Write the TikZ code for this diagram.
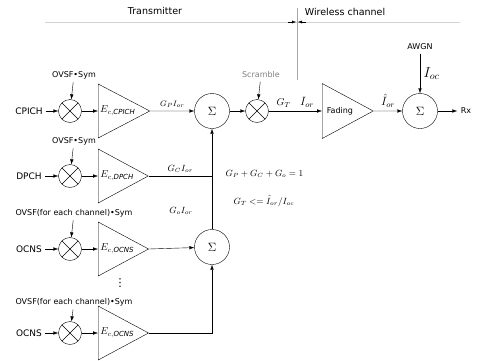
\documentclass[tikz,border=0pt]{standalone}
\usepackage{fontspec}
\setmainfont{DejaVu Sans}
\usetikzlibrary{shapes.geometric, arrows.meta}

\begin{document}
\begin{tikzpicture}[x=1pt, y=-1pt,
  mult/.style={draw, circle, minimum size=23pt, inner sep=0pt,
    path picture={\draw (path picture bounding box.north west) -- (path picture bounding box.south east)
      (path picture bounding box.north east) -- (path picture bounding box.south west);}},
  summ/.style={draw, circle, minimum size=35pt, inner sep=0pt, font=\large},
  amp/.style={draw, isosceles triangle, isosceles triangle stretches, minimum width=54pt,
    minimum height=50pt, inner sep=1pt, anchor=west},
  sig/.style={-{Latex[length=5pt,width=3.5pt]}},
  txt/.style={font=\fontsize{8}{9}\selectfont},
  chan/.style={font=\fontsize{9}{10}\selectfont}]
  \useasboundingbox (0,0) rectangle (477,360);

  % Headers
  \node[font=\fontsize{9.5}{11}\selectfont] (tx) at (155,11) {Transmitter};
  \node[font=\fontsize{9.5}{11}\selectfont] (wc) at (345,12) {Wireless channel};
  \draw[gray!35] (45,22) -- (460,22);
  \coordinate (sep) at (297,22);
  \draw[gray!70] (297,8) -- (297,80);
  \draw[-{Latex[length=4pt,width=3pt]}] ([xshift=-9pt]sep) -- ([xshift=-1pt]sep);
  \draw[-{Latex[length=4pt,width=3pt]}] ([xshift=9pt]sep) -- ([xshift=1pt]sep);

  % Input channels
  \foreach \n/\y/\d/\inp/\sym in {cp/111/36/CPICH/OVSF\textbullet Sym,
      dp/176/35/DPCH/OVSF\textbullet Sym,
      oa/249/36/OCNS/OVSF(for each channel)\textbullet Sym,
      ob/333/31/OCNS/OVSF(for each channel)\textbullet Sym} {
    \node[chan] (in\n) at (29,\y) {\inp};
    \node[mult] (m\n) at (70,\y) {};
    \node[txt] (code\n) at (74,\y-\d) {\sym};
    \node[amp] (a\n) at (98,\y) {$E_{c,\mathit{\inp}}$};
    \draw[sig] (in\n) -- (m\n);
    \draw[sig] (code\n) -- (m\n);
    \draw[sig] (m\n) -- (a\n.west);
  }
  \node[font=\fontsize{11}{11}\selectfont] (dots) at (120,283) {⋮};

  % Summing of the channels
  \node[summ] (sp) at (212,111) {$\Sigma$};
  \node[summ] (so) at (212,247) {$\Sigma$};
  \draw[sig] (acp.east) -- node[above, font=\footnotesize] {$G_P I_{or}$} (sp);
  \draw (adp.east) -- node[above, font=\small] {$G_C I_{or}$} (adp.east -| sp);
  \draw[sig] (so) -- (sp);
  \draw[sig] (aoa.east) -- (so);
  \draw[sig] (aob.east) -| (so);
  \node[font=\small] (go) at (181,211) {$G_o I_{or}$};

  % Gain relations
  \node[anchor=west, font=\small] (eq1) at (222,174) {$G_P + G_C + G_o = 1$};
  \node[anchor=west, font=\small] (eq2) at (230,201) {$G_T <= \hat{I}_{or} / I_{oc}$};

  % Scrambling
  \node[mult] (scr) at (257,111) {};
  \node[txt, gray] (scrtxt) at (261,75) {Scramble};
  \draw[sig] (sp) -- (scr);
  \draw[sig] (scrtxt) -- (scr);

  % Wireless channel
  \node[amp, minimum width=55pt, minimum height=51pt] (fad) at (322,111) {\fontsize{8}{9}\selectfont Fading~~};
  \draw[sig] (scr) -- node[above, pos=0.28] {$G_T$} node[above, pos=0.72, font=\large] {$I_{or}$} (fad.west);
  \node[summ] (sr) at (420,111) {$\Sigma$};
  \draw[sig] (fad.east) -- node[above, font=\large] {$\hat{I}_{or}$} (sr);
  \node[txt] (awgn) at (420,47) {AWGN};
  \draw[sig] (awgn) -- node[right, font=\Large] {$I_{oc}$} (sr);
  \node[txt] (rx) at (466,111) {Rx};
  \draw[sig] (sr) -- (rx);
\end{tikzpicture}
\end{document}
